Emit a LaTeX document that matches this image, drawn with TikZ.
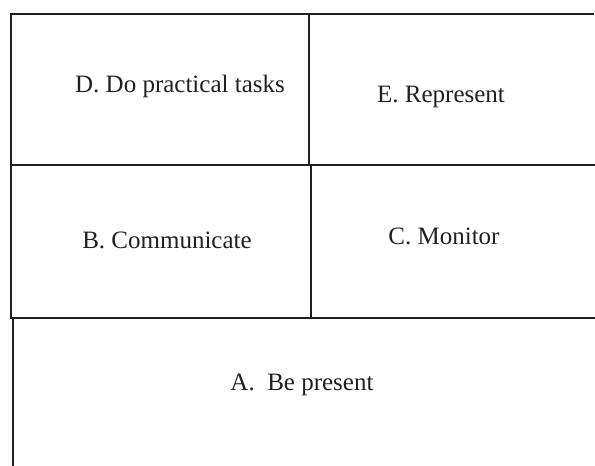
\documentclass[tikz,border=0pt]{standalone}
\usepackage{fontspec}
\setmainfont{Liberation Serif}
\begin{document}
\begin{tikzpicture}[x=1pt,y=-1pt,
  rule/.style={line width=2pt,draw={rgb,255:red,35;green,31;blue,32}},
  lbl/.style={font=\fontsize{25}{30}\selectfont,text={rgb,255:red,35;green,31;blue,32},inner sep=0pt}]
\useasboundingbox (0,0) rectangle (595,466);
% frame lines
\draw[rule] (10.5,318) -- (10.5,14) -- (594,14);
\draw[rule] (309,14) -- (309,165);
\draw[rule] (10,165) -- (595,165);
\draw[rule] (310.5,165) -- (310.5,318);
\draw[rule] (10,318) -- (595,318);
\draw[rule] (12.5,318) -- (12.5,466);
% labels
\node[lbl] (d) at (180,86) {D. Do practical tasks};
\node[lbl] (e) at (441,97) {E. Represent};
\node[lbl] (b) at (167,240) {B. Communicate};
\node[lbl] (c) at (444,236) {C. Monitor};
\node[lbl] (a) at (302,385) {A.\ \ Be present};
\end{tikzpicture}
\end{document}
